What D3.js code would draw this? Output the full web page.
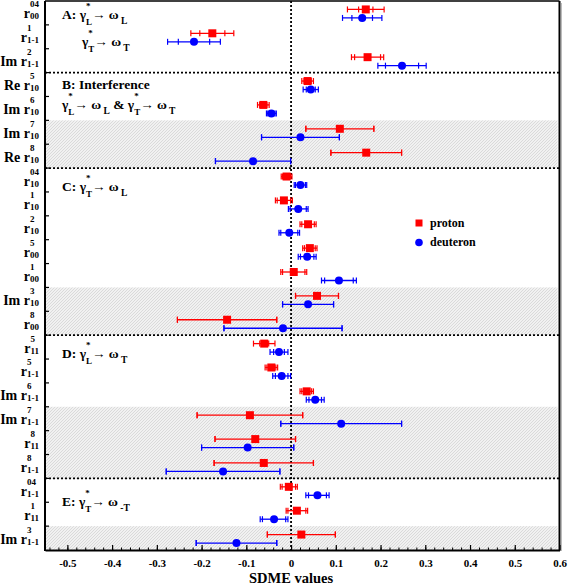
<!DOCTYPE html>
<html><head><meta charset="utf-8">
<script src="https://cdn.jsdelivr.net/npm/d3@7"></script>
<style>
body{margin:0;background:#fff;}
text{font-family:"Liberation Serif","Times New Roman",serif;font-weight:bold;fill:#000;}
</style></head><body>
<svg id="c" width="568" height="587"></svg>
<script>
// ---- data ----
const rowPrefix = ["", "", "Im ", "Re ", "Im ", "Im ", "Re ", "", "", "", "", "", "Im ", "", "", "", "Im ", "Im ", "", "", "", "", "Im "];
const rowSub = ["00","1-1","1-1","10","10","10","10","10","10","10","00","00","10","00","11","1-1","1-1","1-1","11","1-1","1-1","11","1-1"];
const rowSup = ["04","1","2","5","6","7","8","04","1","2","5","1","3","8","5","5","6","7","8","8","04","1","3"];

const protonVal  = [0.167,-0.176,0.171,0.037,-0.062,0.109,0.168,-0.010,-0.016,0.038,0.042,0.006,0.058,-0.143,-0.060,-0.044,0.035,-0.092,-0.080,-0.061,-0.005,0.013,0.023];
const protonStat = [0.016,0.028,0.029,0.008,0.008,0.076,0.079,0.009,0.015,0.014,0.012,0.025,0.048,0.111,0.010,0.010,0.011,0.118,0.090,0.111,0.015,0.020,0.076];
const protonTot  = [0.041,0.048,0.036,0.013,0.013,0.076,0.079,0.012,0.019,0.018,0.016,0.029,0.048,0.111,0.024,0.014,0.015,0.118,0.090,0.111,0.019,0.024,0.076];

const deutVal  = [0.159,-0.217,0.248,0.044,-0.044,0.021,-0.085,0.021,0.016,-0.004,0.036,0.107,0.038,-0.018,-0.027,-0.021,0.054,0.112,-0.097,-0.152,0.059,-0.038,-0.122];
const deutStat = [0.023,0.035,0.037,0.010,0.008,0.087,0.084,0.011,0.018,0.019,0.015,0.032,0.057,0.132,0.012,0.014,0.014,0.135,0.103,0.127,0.020,0.026,0.090];
const deutTot  = [0.044,0.059,0.054,0.017,0.011,0.087,0.084,0.014,0.022,0.023,0.020,0.039,0.057,0.132,0.020,0.020,0.020,0.135,0.103,0.127,0.026,0.031,0.090];

const separators = [3, 7, 14, 20];
const shadedRows = [5, 6, 12, 13, 17, 18, 19, 22];
const xTicks = [-0.5,-0.4,-0.3,-0.2,-0.1,0,0.1,0.2,0.3,0.4,0.5,0.6];
const xTickLabels = ["-0.5","-0.4","-0.3","-0.2","-0.1","0","0.1","0.2","0.3","0.4","0.5","0.6"];
const legendLabels = ["proton","deuteron"];
const xTitle = "SDME values";

// ---- layout ----
const svg = d3.select("#c");
const L = 45, R = 559.5, T = 1, B = 550;
const x = d3.scaleLinear().domain([-0.55, 0.6]).range([L, R]);
const y = d3.scaleBand().domain(d3.range(rowSub.length)).range([T, B]).padding(0);
const bw = y.bandwidth();
const yc = i => y(i) + bw / 2;
const RED = "#ff0000", BLUE = "#0000ff";

// hatch pattern
const defs = svg.append("defs");
const pat = defs.append("pattern").attr("id","hatch").attr("patternUnits","userSpaceOnUse").attr("width",3).attr("height",3);
pat.append("rect").attr("width",3).attr("height",3).attr("fill","#f1f1f1");
pat.append("path").attr("d","M0,3 L3,0").attr("stroke","#dadada").attr("stroke-width",1);

// shaded bands
svg.append("g").selectAll("rect").data(shadedRows).join("rect")
  .attr("x", L+1).attr("width", R - L - 3)
  .attr("y", d => y(d)).attr("height", bw + 0.5)
  .attr("fill","url(#hatch)");

// separators
svg.append("g").selectAll("line").data(separators).join("line")
  .attr("x1", L).attr("x2", R).attr("y1", d => y(d)).attr("y2", d => y(d))
  .attr("stroke","#000").attr("stroke-width",1.6).attr("stroke-dasharray","2,2");

// zero line
svg.append("line").attr("x1", x(0)).attr("x2", x(0)).attr("y1", T).attr("y2", B)
  .attr("stroke","#000").attr("stroke-width",1.8).attr("stroke-dasharray","2,2");

// error bars + markers
function drawSeries(vals, stat, tot, color, off, shape) {
  const g = svg.append("g");
  const data = vals.map((v,i)=>({v, s:stat[i], t:tot[i], yy: yc(i)+off}));
  const h = 3;
  data.forEach(d => {
    g.append("line").attr("x1", x(d.v-d.t)).attr("x2", x(d.v+d.t)).attr("y1", d.yy).attr("y2", d.yy)
      .attr("stroke", color).attr("stroke-width",1.3);
    [d.v-d.t, d.v+d.t, d.v-d.s, d.v+d.s].forEach(e => {
      g.append("line").attr("x1", x(e)).attr("x2", x(e)).attr("y1", d.yy-h).attr("y2", d.yy+h)
        .attr("stroke", color).attr("stroke-width",1.2);
    });
  });
  if (shape === "square") {
    g.selectAll("rect.m").data(data).join("rect").attr("class","m")
      .attr("x", d => x(d.v)-4).attr("y", d => d.yy-4).attr("width",8).attr("height",8).attr("fill",color);
  } else {
    g.selectAll("circle").data(data).join("circle")
      .attr("cx", d => x(d.v)).attr("cy", d => d.yy).attr("r",4).attr("fill",color);
  }
}
drawSeries(protonVal, protonStat, protonTot, RED, -3.5, "square");
drawSeries(deutVal, deutStat, deutTot, BLUE, 5, "circle");

// x axis
const ax = svg.append("g").attr("transform",`translate(0,${B})`)
  .call(d3.axisBottom(x).tickValues(xTicks).tickSizeInner(-5).tickSizeOuter(0).tickPadding(9)
    .tickFormat((d,i)=>xTickLabels[i]));
const minor = d3.range(-54, 60, 2).map(v=>v/100);
svg.append("g").attr("transform",`translate(0,${B})`)
  .call(d3.axisBottom(x).tickValues(minor).tickSizeInner(-2.5).tickSizeOuter(0).tickFormat(""))
  .call(g=>g.select(".domain").remove());
ax.select(".domain").attr("stroke-width",2);
ax.selectAll(".tick line").attr("stroke-width",1.2);
ax.selectAll(".tick text").style("font-size","11px").style("font-family","Liberation Serif").style("font-weight","bold");

// y axis ticks (row boundaries)
svg.append("g").selectAll("line").data(d3.range(1, rowSub.length)).join("line")
  .attr("x1", L).attr("x2", L+4).attr("y1", d=>y(d)).attr("y2", d=>y(d))
  .attr("stroke","#000").attr("stroke-width",1.2);

// frame
svg.append("line").attr("x1",L).attr("x2",L).attr("y1",T).attr("y2",B+1).attr("stroke","#000").attr("stroke-width",2);
svg.append("line").attr("x1",L).attr("x2",R).attr("y1",T).attr("y2",T).attr("stroke","#000").attr("stroke-width",1.5);
svg.append("line").attr("x1",R).attr("x2",R).attr("y1",T).attr("y2",B+1).attr("stroke","#000").attr("stroke-width",2);
svg.append("line").attr("x1",R+2).attr("x2",R+2).attr("y1",T+2).attr("y2",B+1).attr("stroke","#bbb").attr("stroke-width",1);

// rich text helper
function rich(g, x0, y0, parts) {
  let cx = x0;
  parts.forEach(p => {
    if (p.sup !== undefined) {
      const a = g.append("text").attr("x",cx).attr("y",y0+p.supDy).style("font-size",p.size+"px").text(p.sup);
      const b = g.append("text").attr("x",cx).attr("y",y0+p.subDy).style("font-size",p.size+"px").text(p.sub);
      cx += Math.max(a.node().getComputedTextLength(), b.node().getComputedTextLength()) + (p.gap||0);
    } else {
      const t = g.append("text").attr("x",cx).attr("y",y0+(p.dy||0)).style("font-size",p.size+"px")
        .attr("xml:space","preserve").style("white-space","pre").text(p.t);
      cx += t.node().getComputedTextLength();
    }
  });
  return cx - x0;
}

// row labels
rowSub.forEach((s,i) => {
  const g = svg.append("g");
  const w = rich(g, 0, yc(i)+5.5, [{t: rowPrefix[i]+"r", size:14}, {sup: rowSup[i], sub: s, size:9, supDy:-11, subDy:1}]);
  g.attr("transform", `translate(${39 - w},0)`);
});

// annotations
const gam = (sub) => [{t:"γ", size:13.5}, {sup:"*", sub:sub, size:9, supDy:-10, subDy:5.5, gap:0}];
const omg = (sub) => [{t:"→ ω", size:13.5}, {t:" "+sub, size:9.5, dy:5}];
const ann = svg.append("g");
rich(ann, 62, 19, [{t:"A: ", size:13.5}, ...gam("L"), ...omg("L")]);
rich(ann, 82, 46, [...gam("T"), ...omg("T")]);
rich(ann, 62, 89, [{t:"B: Interference", size:13.5}]);
rich(ann, 62, 109, [...gam("L"), ...omg("L"), {t:" & ", size:13.5}, ...gam("T"), ...omg("T")]);
rich(ann, 62, 191, [{t:"C: ", size:13.5}, ...gam("T"), ...omg("L")]);
rich(ann, 62, 358, [{t:"D: ", size:13.5}, ...gam("L"), ...omg("T")]);
rich(ann, 62, 506, [{t:"E: ", size:13.5}, ...gam("T"), ...omg("-T")]);

// legend
const lg = svg.append("g");
lg.append("rect").attr("x",415.5).attr("y",219.5).attr("width",7).attr("height",7).attr("fill",RED);
lg.append("circle").attr("cx",419).attr("cy",242.5).attr("r",3.8).attr("fill",BLUE);
lg.append("text").attr("x",430).attr("y",227).style("font-size","12px").text(legendLabels[0]);
lg.append("text").attr("x",430).attr("y",246).style("font-size","12px").text(legendLabels[1]);

// x title
svg.append("text").attr("x", x(0)).attr("y", 583).attr("text-anchor","middle").style("font-size","14.5px").text(xTitle);
</script>
</body></html>
